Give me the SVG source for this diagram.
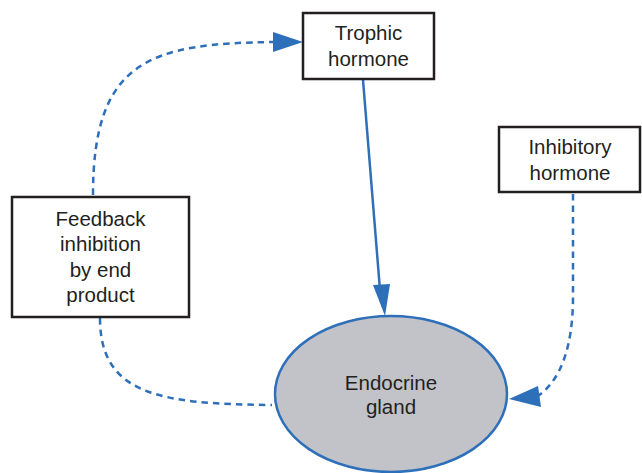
<svg xmlns="http://www.w3.org/2000/svg" width="642" height="473" viewBox="0 0 642 473">
<defs>
<style>
.box{fill:#fff;stroke:#231f20;stroke-width:2.5}
.lbl{font-family:"Liberation Sans",Arial,sans-serif;font-size:20.5px;fill:#231f20;text-anchor:middle}
.dash{fill:none;stroke:#2e6fba;stroke-width:2.5;stroke-dasharray:6.5 5}
.solid{fill:none;stroke:#2e6fba;stroke-width:2.5}
.head{fill:#2e6fba}
</style>
</defs>
<g id="connectors">
<path class="dash" d="M93,195 C93,60 150,43 276,42" />
<path class="head" d="M273,32 L303,42 L273,52 Z"/>
<path class="solid" d="M363,80 L380,290" />
<path class="head" d="M373,285 L385,316 L390,284 Z"/>
<path class="dash" d="M573,194 L573,300 Q572,372 538,396" />
<path class="head" d="M509,399 L538,386 L541,407 Z"/>
<path class="dash" d="M100,318 C100,395 160,404 272,405" />
</g>
<g id="trophic">
<rect class="box" x="303" y="13" width="131" height="66"/>
<text class="lbl" x="368.5" y="40">Trophic</text>
<text class="lbl" x="368.5" y="65.5">hormone</text>
</g>
<g id="inhibitory">
<rect class="box" x="499" y="127" width="141" height="65"/>
<text class="lbl" x="570" y="154">Inhibitory</text>
<text class="lbl" x="570" y="180">hormone</text>
</g>
<g id="feedback">
<rect class="box" x="12" y="197" width="177" height="120"/>
<text class="lbl" x="100.5" y="225.5">Feedback</text>
<text class="lbl" x="100.5" y="251">inhibition</text>
<text class="lbl" x="100.5" y="276.5">by end</text>
<text class="lbl" x="100.5" y="302">product</text>
</g>
<g id="endocrine">
<ellipse cx="391" cy="394" rx="116" ry="78" fill="#c1c3c8" stroke="#2e6fba" stroke-width="2.5"/>
<text class="lbl" x="391" y="390">Endocrine</text>
<text class="lbl" x="391" y="414">gland</text>
</g>
</svg>
